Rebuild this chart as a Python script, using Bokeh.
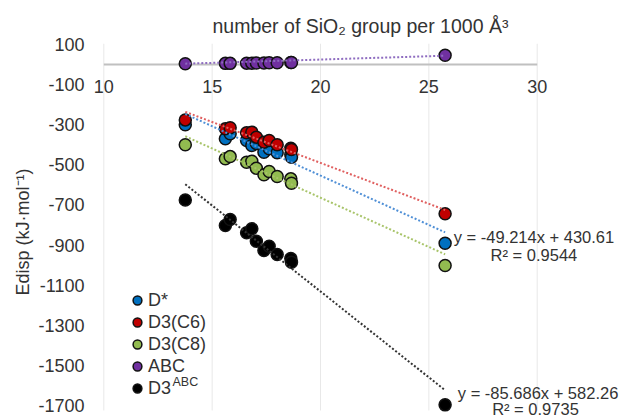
from bokeh.plotting import figure
from bokeh.models import Range1d, FixedTicker, Legend, LegendItem, Label
from bokeh.embed import file_html
from bokeh.resources import INLINE

# ---- data ----
x_vals = [13.76, 15.61, 15.83, 16.59, 16.83, 17.04, 17.39, 17.63, 18.00, 18.63, 18.66, 25.75]
d_star = [-300, -370, -345, -379, -404, -394, -437, -420, -440, -449, -462, -891]
d3_c6 = [-276, -320, -315, -340, -337, -362, -387, -379, -400, -417, -424, -744]
d3_c8 = [-400, -470, -459, -487, -482, -517, -550, -533, -558, -570, -592, -1002]
abc = [4, 6, 6, 7, 7, 8, 8, 9, 9, 10, 10, 46]
d3_abc = [-675, -803, -773, -839, -819, -881, -927, -906, -947, -967, -986, -1697]

series_names = ["D*", "D3(C6)", "D3(C8)", "ABC", "D3"]
series_values = [d_star, d3_c6, d3_c8, abc, d3_abc]
trend_slopes = [-49.214, -40.8, -49.1, 3.3, -85.686]
trend_intercepts = [430.61, 325.6, 318.0, -41.0, 582.26]

eq_blue = ["y = -49.214x + 430.61", "R\u00b2 = 0.9544"]
eq_black = ["y = -85.686x + 582.26", "R\u00b2 = 0.9735"]

x_ticks = [10, 15, 20, 25, 30]
y_ticks = [100, -100, -300, -500, -700, -900, -1100, -1300, -1500, -1700]

# ---- styles ----
FONT = "Liberation Sans"
TXT = "#333333"
fill_colors = ["#0070C0", "#C00000", "#92BB50", "#7030A0", "#000000"]
trend_colors = ["#4F8FD6", "#E06060", "#A8C46A", "#8E6CC0", "#333333"]
GRID_TOP, GRID_BOTTOM = 105, -1725

p = figure(width=621, height=420, x_range=Range1d(9.432, 33.89), y_range=Range1d(-1775, 105),
           output_backend="svg", toolbar_location=None,
           min_border_left=91, min_border_right=0, min_border_top=43, min_border_bottom=0)
p.outline_line_color = None
p.background_fill_color = "white"

# title (x axis name)
p.title.text = "number of SiO\u2082 group per 1000 \u00c5\u00b3"
p.title.text_font = FONT
p.title.text_font_size = "19.5px"
p.title.text_font_style = "normal"
p.title.text_color = TXT
p.title.align = "left"
p.title.offset = 121
p.title.standoff = 14

# x axis crossing at y = 0
xa = p.xaxis[0]
xa.fixed_location = 0
xa.ticker = FixedTicker(ticks=x_ticks)
xa.axis_line_color = None
xa.major_tick_line_color = None
xa.minor_tick_line_color = None
xa.major_label_text_font = FONT
xa.major_label_text_font_size = "18px"
xa.major_label_text_color = TXT
xa.major_label_standoff = 9

ya = p.yaxis[0]
ya.ticker = FixedTicker(ticks=y_ticks)
ya.major_label_overrides = {t: str(t) for t in y_ticks}
ya.axis_line_color = None
ya.major_tick_line_color = None
ya.minor_tick_line_color = None
ya.major_label_text_font = FONT
ya.major_label_text_font_size = "18px"
ya.major_label_text_color = TXT
ya.major_label_standoff = 1
ya.axis_label = "Edisp (kJ\u00b7mol\u207b\u00b9)"
ya.axis_label_text_font = FONT
ya.axis_label_text_font_size = "18px"
ya.axis_label_text_font_style = "normal"
ya.axis_label_text_color = TXT
ya.axis_label_standoff = 2

p.xgrid.grid_line_color = None
p.ygrid.grid_line_color = None

# vertical gridlines limited to the plot area, and the x axis line at y = 0
p.segment(x0=x_ticks, x1=x_ticks, y0=[GRID_BOTTOM] * len(x_ticks), y1=[GRID_TOP] * len(x_ticks),
          line_color="#E8E8E8", line_width=1)
p.segment(x0=[x_ticks[0]], x1=[x_ticks[-1]], y0=[0], y1=[0], line_color="#C0C0C0", line_width=2)

x_lo, x_hi = min(x_vals), max(x_vals)
renderers = []
for vals, fc in zip(series_values, fill_colors):
    r = p.scatter(x_vals, vals, size=12, fill_color=fc, line_color="#111111", line_width=1.5)
    renderers.append(r)

for m, b, tc in zip(trend_slopes, trend_intercepts, trend_colors):
    p.line([x_lo, x_hi], [m * x_lo + b, m * x_hi + b], line_color=tc, line_width=2,
           line_dash="2 2")

legend = Legend(items=[LegendItem(label=n, renderers=[r]) for n, r in zip(series_names, renderers)],
                location=(35, 21), orientation="vertical")
legend.background_fill_alpha = 0
legend.border_line_color = None
legend.padding = 0
legend.margin = 0
legend.spacing = 0
legend.label_standoff = 0
legend.glyph_width = 22
legend.glyph_height = 22
legend.label_height = 22
legend.label_text_font = FONT
legend.label_text_font_size = "18px"
legend.label_text_color = TXT
p.add_layout(legend)

p.add_layout(Label(x=13.17, y=-1581, text="ABC",
                   text_font=FONT, text_font_size="12.5px", text_color=TXT,
                   text_baseline="middle", text_align="left"))

for txt, xx, yy in [(eq_blue[0], 29.85, -861), (eq_blue[1], 29.85, -952),
                    (eq_black[0], 30.04, -1636), (eq_black[1], 29.92, -1720)]:
    p.add_layout(Label(x=xx, y=yy, text=txt,
                       text_font=FONT, text_font_size="16.5px", text_color=TXT,
                       text_baseline="middle", text_align="center"))

open("out.html", "w").write(file_html(p, INLINE))
